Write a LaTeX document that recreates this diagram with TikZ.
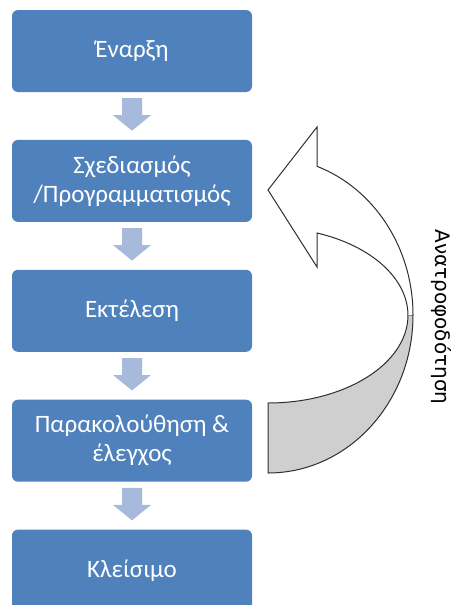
\documentclass[tikz,border=0pt]{standalone}
\usepackage{fontspec}
\setmainfont{Carlito}
\newfontfamily\labelfont{DejaVu Sans}
\usepackage{tikz}
\usetikzlibrary{positioning,calc}

\definecolor{boxblue}{HTML}{4F81BD}
\definecolor{flowblue}{HTML}{A7BADC}
\definecolor{backgrey}{HTML}{CFCFCF}
\definecolor{edgegrey}{HTML}{2E2E2E}

\begin{document}
\begin{tikzpicture}[
        stepbox/.style={fill=boxblue, rounded corners=6pt, minimum width=240pt,
            minimum height=82pt, align=center, text=white, inner sep=2pt,
            font=\fontsize{25}{29}\selectfont},
        flowarrow/.style={fill=flowblue},
        curvearrow/.style={draw=edgegrey, line width=1pt, line join=miter}
    ]
            \useasboundingbox (0,0) rectangle (453pt,-605pt);
            \clip (0,0) rectangle (453pt,-605pt);
            \node[stepbox] (a) at (132pt,-51pt) {Έναρξη};
            \node[stepbox, below=47.5pt of a] (b) {Σχεδιασμός\\/Προγραμματισμός};
            \node[stepbox, below=47.5pt of b] (c) {Εκτέλεση};
            \node[stepbox, below=47.5pt of c] (d) {Παρακολούθηση \&\\έλεγχος};
            \node[stepbox, below=47.5pt of d] (e) {Κλείσιμο};
            \foreach \i/\j in {a/b,b/c,c/d,d/e}
                \fill[flowarrow] ($(\i.south)+(-10pt,-6pt)$) -- ++(20pt,0) -- ++(0,-17pt)
                    -- ++(9pt,0) -- ($(\j.north)+(0,9pt)$) -- ($(\i.south)+(-19pt,-23pt)$)
                    -- ++(9pt,0) -- cycle;
            % back of the feedback arrow
            \filldraw[curvearrow, fill=backgrey] (268pt,-403pt)
                arc[start angle=-90, end angle=0, x radius=140pt, y radius=88pt]
                -- (413pt,-315pt)
                arc[start angle=0, end angle=-90, x radius=145pt, y radius=158pt] -- cycle;
            % front of the feedback arrow
            \fill[white] (413pt,-315pt)
                arc[start angle=0, end angle=70.2, x radius=145pt, y radius=158pt]
                -- (317pt,-127pt) -- (268pt,-190pt) -- (317pt,-267pt) -- (317pt,-233pt)
                arc[start angle=69.5, end angle=0, x radius=140pt, y radius=88pt] -- cycle;
            \draw[curvearrow] (413pt,-315pt)
                arc[start angle=0, end angle=70.2, x radius=145pt, y radius=158pt]
                -- (317pt,-127pt) -- (268pt,-190pt) -- (317pt,-267pt) -- (317pt,-233pt)
                arc[start angle=69.5, end angle=0, x radius=140pt, y radius=88pt];
            \begin{scope}[every node/.style={font=\labelfont\fontsize{20}{24}\selectfont}]
                \node[rotate=-90] (f) at (441pt,-317pt) {Ανατροφοδότηση};
            \end{scope}
        \end{tikzpicture}
\end{document}
